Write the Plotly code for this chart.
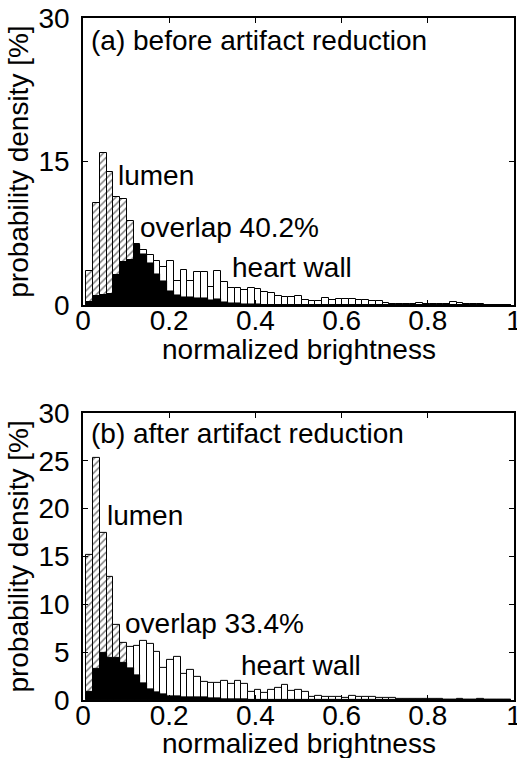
import plotly.graph_objects as go
from plotly.subplots import make_subplots

# bin centres: k/64, k = 1..63
n_bins = 63
bin_width = 1 / 64
centers = [(k + 1) / 64 for k in range(n_bins)]

lumen_a = [3.6, 10.7, 15.9, 13.9, 11.3, 11.1, 8.8, 6.4, 5.3, 4.4, 3.3, 2.5, 1.5, 1.1, 0.85, 0.8,
           0.7, 0.7, 0.5, 0.6, 0.3, 0.25, 0.2, 0.15, 0.1, 0.1, 0.05] + [0.0] * 36
wall_a = [0.3, 1.0, 1.1, 1.2, 3.1, 4.5, 4.7, 6.3, 5.8, 5.2, 4.6, 4.0, 4.6, 2.5, 3.7, 2.5,
          3.5, 3.5, 1.9, 3.6, 2.4, 1.8, 1.8, 1.6, 1.8, 1.7, 1.4, 1.3, 1.0, 0.9, 0.9, 0.95,
          0.5, 0.45, 0.45, 0.75, 0.5, 0.6, 0.6, 0.6, 0.5, 0.5, 0.42, 0.42, 0.25, 0.1, 0.1, 0.12,
          0.1, 0.2, 0.15, 0.1, 0.1, 0.12, 0.28, 0.2, 0.07, 0.07, 0.15, 0.05, 0.05, 0.0, 0.0]

lumen_b = [15.2, 25.3, 17.5, 12.9, 7.9, 6.0, 3.4, 2.6, 1.8, 1.2, 0.9, 0.6, 0.4, 0.4, 0.35, 0.35,
           0.3, 0.3, 0.2, 0.2, 0.15, 0.1, 0.1, 0.1, 0.05] + [0.0] * 38
wall_b = [0.9, 3.3, 4.9, 4.45, 4.4, 3.9, 5.6, 5.7, 6.2, 5.9, 5.05, 3.4, 4.2, 4.5, 2.7, 3.1,
          2.4, 1.9, 1.75, 1.75, 2.0, 1.7, 2.0, 1.7, 0.8, 1.1, 0.7, 1.1, 1.3, 1.55, 1.0, 1.1,
          0.85, 0.35, 0.4, 0.3, 0.3, 0.3, 0.25, 0.45, 0.3, 0.35, 0.3, 0.25, 0.2, 0.2, 0.15, 0.1,
          0.1, 0.1, 0.1, 0.15, 0.1, 0.05, 0.05, 0.1, 0.05, 0.05, 0.1, 0.05, 0.05, 0.05, 0.0]

panel_titles = ["(a) before artifact reduction", "(b) after artifact reduction"]
overlap_texts = ["overlap 40.2%", "overlap 33.4%"]
x_title = "normalized brightness"
y_title = "probability density [%]"
x_ticks = [0, 0.2, 0.4, 0.6, 0.8, 1]
x_ticktext = ["0", "0.2", "0.4", "0.6", "0.8", "1"]
y_ticks_a = [0, 15, 30]
y_ticks_b = [0, 5, 10, 15, 20, 25, 30]

FONT = "Liberation Sans, Arial, sans-serif"
FS = 28

fig = make_subplots(rows=2, cols=1, vertical_spacing=0.158)

panels = [(lumen_a, wall_a), (lumen_b, wall_b)]
for i, (lum, wall) in enumerate(panels):
    row = i + 1
    overlap = [min(a, b) for a, b in zip(lum, wall)]
    fig.add_trace(go.Bar(x=centers, y=lum, width=bin_width,
                         marker=dict(color="white", line=dict(color="black", width=1),
                                     pattern=dict(shape="/", fgcolor="black", bgcolor="white",
                                                  size=5, solidity=0.3)),
                         showlegend=False), row=row, col=1)
    fig.add_trace(go.Bar(x=centers, y=wall, width=bin_width,
                         marker=dict(color="white", line=dict(color="black", width=1)),
                         showlegend=False), row=row, col=1)
    fig.add_trace(go.Bar(x=centers, y=overlap, width=bin_width,
                         marker=dict(color="black", line=dict(color="black", width=0.5)),
                         showlegend=False), row=row, col=1)

ax_common = dict(showline=True, linecolor="black", linewidth=1.5, mirror="allticks",
                 ticks="inside", ticklen=5, tickcolor="black", showgrid=False, zeroline=False,
                 automargin=False,
                 tickfont=dict(family=FONT, size=FS, color="black"))
for row in (1, 2):
    fig.update_xaxes(range=[0, 1], tickvals=x_ticks, ticktext=x_ticktext,
                     ticklabeloverflow="allow", ticklabelstandoff=-10,
                     row=row, col=1, **ax_common)
fig.update_yaxes(range=[0, 30], tickvals=y_ticks_a, row=1, col=1, ticklabelstandoff=6,
                 title=dict(text=y_title,
                            font=dict(family=FONT, size=FS, color="black"), standoff=2),
                 **ax_common)
fig.update_yaxes(range=[0, 30], tickvals=y_ticks_b, row=2, col=1, ticklabelstandoff=6,
                 title=dict(text=y_title,
                            font=dict(family=FONT, size=FS, color="black"), standoff=2),
                 **ax_common)

ann_font = dict(family=FONT, size=FS, color="black")
annots = [
    ("x", "y", 0.015, 27.7, panel_titles[0]),
    ("x", "y", 0.077, 13.5, "lumen"),
    ("x", "y", 0.127, 8.1, overlap_texts[0]),
    ("x", "y", 0.34, 3.95, "heart wall"),
    ("x2", "y2", 0.015, 27.8, panel_titles[1]),
    ("x2", "y2", 0.05, 19.3, "lumen"),
    ("x2", "y2", 0.092, 8.0, overlap_texts[1]),
    ("x2", "y2", 0.363, 3.6, "heart wall"),
]
for xr, yr, xv, yv, t in annots:
    fig.add_annotation(x=xv, y=yv, xref=xr, yref=yr, text=t, showarrow=False,
                       xanchor="left", yanchor="middle", font=ann_font)

# x-axis titles placed just under the tick labels
for xr, yr, yoff in (("x domain", "y domain", -0.154), ("x2 domain", "y2 domain", -0.1505)):
    fig.add_annotation(x=0.5, y=yoff, xref=xr, yref=yr, text=x_title, showarrow=False,
                       xanchor="center", yanchor="middle", font=ann_font)

fig.update_layout(width=517, height=758, barmode="overlay", bargap=0,
                  plot_bgcolor="white", paper_bgcolor="white",
                  margin=dict(l=83, r=3, t=18, b=58),
                  font=dict(family=FONT, size=FS, color="black"))

fig.write_html("out.html")
